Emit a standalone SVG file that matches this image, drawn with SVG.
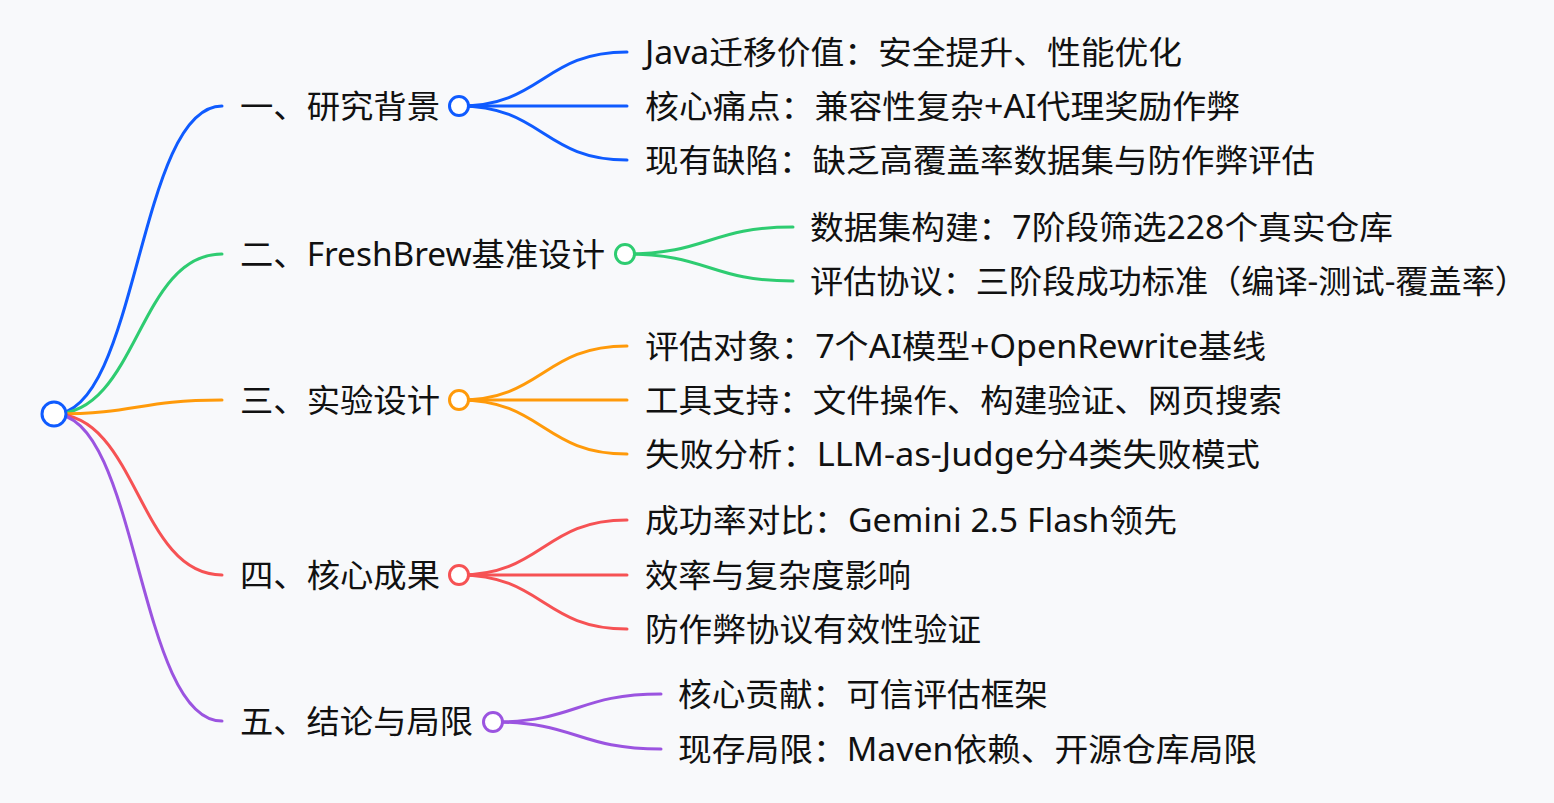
<svg xmlns="http://www.w3.org/2000/svg" width="1554" height="803" viewBox="0 0 1554 803">
<style>
  .bg { fill: #f8f9fb; }
  .link { fill: none; stroke-width: 3; stroke-linecap: round; }
  .dot { fill: #ffffff; stroke-width: 3; }
  .t { font-family: "Microsoft YaHei", "Noto Sans", "Noto Sans CJK SC", sans-serif; font-size: 32px; fill: #111111; }
  .blue { stroke: #0f5bff; }
  .green { stroke: #2ecc71; }
  .orange { stroke: #ff9a0a; }
  .red { stroke: #f65254; }
  .purple { stroke: #9b54e0; }
</style>
<rect class="bg" x="0" y="0" width="1554" height="803"/>
<g id="connectors">
  <path class="link blue" d="M54,414 C138,414 138,106 222,106"/>
  <path class="link green" d="M54,414 C138,414 138,254 222,254"/>
  <path class="link orange" d="M54,414 C138,414 138,400 222,400"/>
  <path class="link red" d="M54,414 C138,414 138,575 222,575"/>
  <path class="link purple" d="M54,414 C138,414 138,721 222,721"/>

  <path class="link blue" d="M459,106 C543,106 543,52 627,52"/>
  <path class="link blue" d="M459,106 L627,106"/>
  <path class="link blue" d="M459,106 C543,106 543,160 627,160"/>

  <path class="link green" d="M625,254 C709,254 709,227 793,227"/>
  <path class="link green" d="M625,254 C709,254 709,281 793,281"/>

  <path class="link orange" d="M459,400 C543,400 543,346 627,346"/>
  <path class="link orange" d="M459,400 L627,400"/>
  <path class="link orange" d="M459,400 C543,400 543,454 627,454"/>

  <path class="link red" d="M459,575 C543,575 543,520 627,520"/>
  <path class="link red" d="M459,575 L627,575"/>
  <path class="link red" d="M459,575 C543,575 543,629 627,629"/>

  <path class="link purple" d="M493,722 C577,722 577,694 661,694"/>
  <path class="link purple" d="M493,722 C577,722 577,749 661,749"/>
</g>

<g id="root">
  <circle class="dot blue" cx="54" cy="414" r="12"/>
</g>

<g id="n1">
  <text class="t" x="240" y="118" textLength="200" lengthAdjust="spacingAndGlyphs">一、研究背景</text>
  <circle class="dot blue" cx="459" cy="106" r="9.5"/>
</g>
<g id="n1a"><text class="t" x="645" y="64" textLength="537" lengthAdjust="spacingAndGlyphs">Java迁移价值：安全提升、性能优化</text></g>
<g id="n1b"><text class="t" x="645" y="118" textLength="595" lengthAdjust="spacingAndGlyphs">核心痛点：兼容性复杂+AI代理奖励作弊</text></g>
<g id="n1c"><text class="t" x="645" y="172" textLength="670" lengthAdjust="spacingAndGlyphs">现有缺陷：缺乏高覆盖率数据集与防作弊评估</text></g>

<g id="n2">
  <text class="t" x="240" y="266" textLength="365" lengthAdjust="spacingAndGlyphs">二、FreshBrew基准设计</text>
  <circle class="dot green" cx="625" cy="254" r="9.5"/>
</g>
<g id="n2a"><text class="t" x="810" y="239" textLength="583" lengthAdjust="spacingAndGlyphs">数据集构建：7阶段筛选228个真实仓库</text></g>
<g id="n2b"><text class="t" x="810" y="293" textLength="718" lengthAdjust="spacingAndGlyphs">评估协议：三阶段成功标准（编译-测试-覆盖率）</text></g>

<g id="n3">
  <text class="t" x="240" y="412" textLength="200" lengthAdjust="spacingAndGlyphs">三、实验设计</text>
  <circle class="dot orange" cx="459" cy="400" r="9.5"/>
</g>
<g id="n3a"><text class="t" x="645" y="358" textLength="621" lengthAdjust="spacingAndGlyphs">评估对象：7个AI模型+OpenRewrite基线</text></g>
<g id="n3b"><text class="t" x="645" y="412" textLength="637" lengthAdjust="spacingAndGlyphs">工具支持：文件操作、构建验证、网页搜索</text></g>
<g id="n3c"><text class="t" x="645" y="466" textLength="615" lengthAdjust="spacingAndGlyphs">失败分析：LLM-as-Judge分4类失败模式</text></g>

<g id="n4">
  <text class="t" x="240" y="587" textLength="200" lengthAdjust="spacingAndGlyphs">四、核心成果</text>
  <circle class="dot red" cx="459" cy="575" r="9.5"/>
</g>
<g id="n4a"><text class="t" x="645" y="532" textLength="532" lengthAdjust="spacingAndGlyphs">成功率对比：Gemini 2.5 Flash领先</text></g>
<g id="n4b"><text class="t" x="645" y="587" textLength="266" lengthAdjust="spacingAndGlyphs">效率与复杂度影响</text></g>
<g id="n4c"><text class="t" x="645" y="641" textLength="336" lengthAdjust="spacingAndGlyphs">防作弊协议有效性验证</text></g>

<g id="n5">
  <text class="t" x="240" y="733" textLength="233" lengthAdjust="spacingAndGlyphs">五、结论与局限</text>
  <circle class="dot purple" cx="493" cy="722" r="9.5"/>
</g>
<g id="n5a"><text class="t" x="678" y="706" textLength="370" lengthAdjust="spacingAndGlyphs">核心贡献：可信评估框架</text></g>
<g id="n5b"><text class="t" x="678" y="761" textLength="579" lengthAdjust="spacingAndGlyphs">现存局限：Maven依赖、开源仓库局限</text></g>
</svg>
